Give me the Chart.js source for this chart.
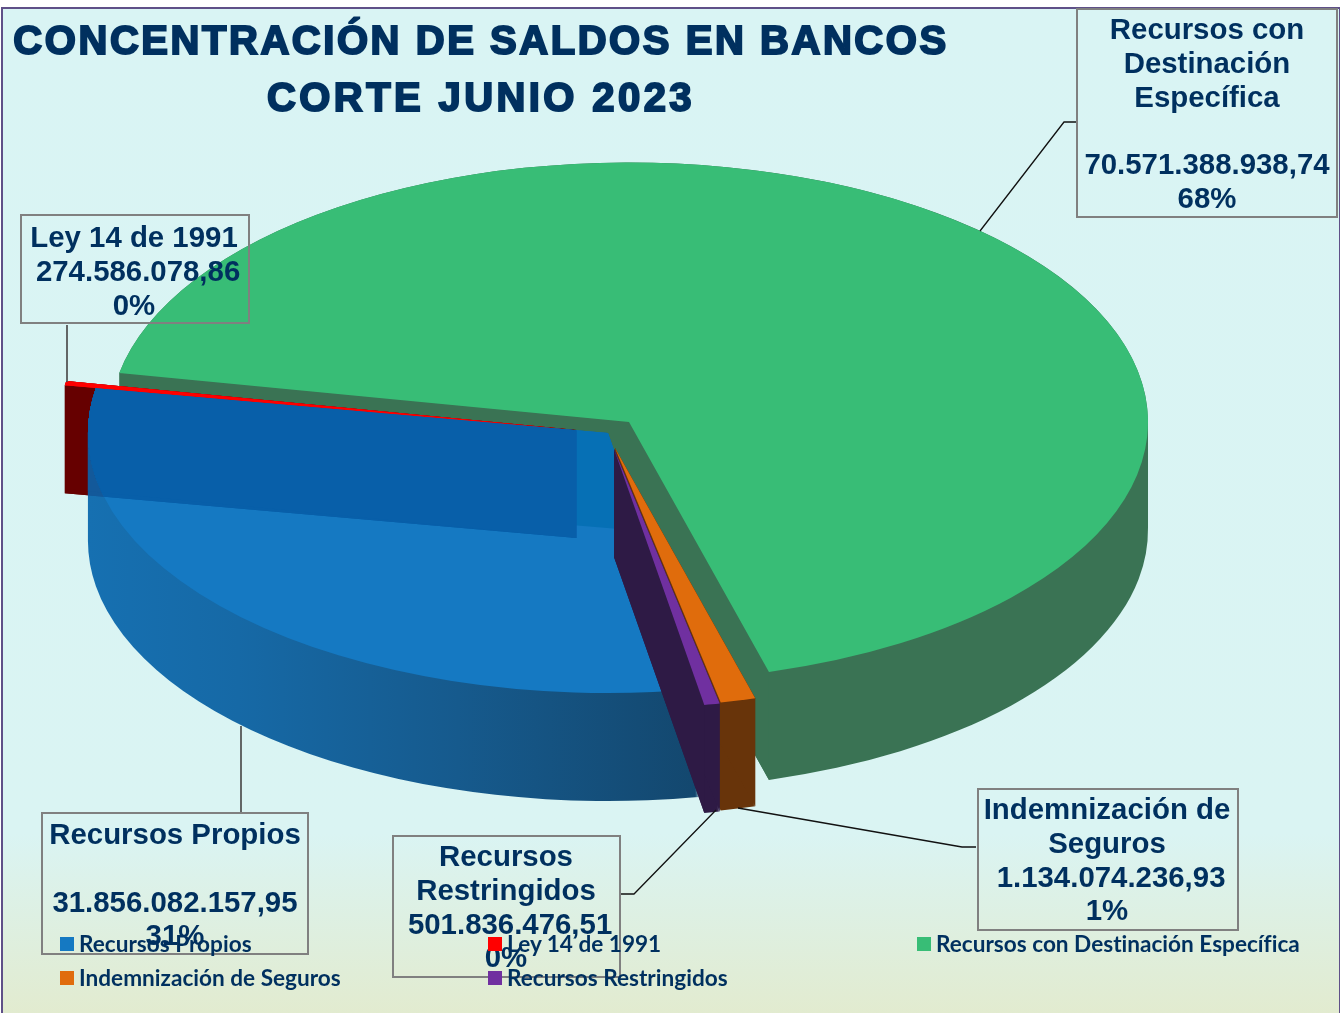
<!DOCTYPE html>
<html lang="es">
<head>
<meta charset="utf-8">
<title>Concentración de saldos en bancos</title>
<script src="https://cdn.jsdelivr.net/npm/chart.js@4/dist/chart.umd.min.js"></script>
<style>
html,body{margin:0;padding:0;background:#fff;width:1340px;height:1013px;overflow:hidden}
#panel{position:absolute;left:1px;top:7px;width:1336px;height:1006px;border:solid #5f5088;border-width:2px 2px 0 2px;
 background:linear-gradient(180deg,#d9f4f4 0%,#daf4f3 82%,#e2ebcf 100%)}
canvas{position:absolute;left:0;top:0}
.t{position:absolute;color:#00305f;font-family:"Liberation Sans",Arial,sans-serif;font-weight:700;white-space:pre;text-align:center;transform:translateX(-50%)}
.title{font-size:40px;-webkit-text-stroke:2px #00305f;line-height:46px}
.box{position:absolute;border:2px solid #808080;box-sizing:border-box}
.lab{font-size:29.4px;line-height:33.8px}
.leg{position:absolute;color:#00305f;font:700 22.6px Lato,sans-serif;font-variant-ligatures:none;white-space:pre;line-height:26px}
.sw{position:absolute;width:14px;height:14px}
</style>
</head>
<body>
<div id="panel"></div>
<canvas id="c" width="1340" height="1013"></canvas>
<div id="over"></div>
<script>
// ---- data ----
const categories = ["Recursos Propios","Ley 14 de 1991","Recursos con Destinación Específica","Indemnización de Seguros","Recursos Restringidos"];
const values = [31856082157.95, 274586078.86, 70571388938.74, 1134074236.93, 501836476.51];
const valueLabels = ["31.856.082.157,95","274.586.078,86","70.571.388.938,74","1.134.074.236,93","501.836.476,51"];
const percentLabels = ["31%","0%","68%","1%","0%"];
const titleLines = ["CONCENTRACIÓN DE SALDOS EN BANCOS","CORTE JUNIO 2023"];
const topColors = ["#1579c2","#ff0000","#38bd76","#e06c0c","#7030a0"];
const wallColors = [null,"#660000","#3a7354","#68340a","#2e1a45"];

// ---- layout of the exploded 3D look ----
const SY = 0.5, DEPTH = 108, START = 170;
const apex = [[608,433],[576.5,430],[629,422],[615,448],[614,449]];
const radii = [520,519.5,519,520,520];
const drawOrder = [2,1,0,3,4];
const titleSpacing = [2.55,3.4];
const labelLayout = [
 {box:[41,812,268,143], cx:175, top:817, lines:["Recursos Propios","", "$v","$p"]},
 {box:[20,214,230,110], cx:134, top:220, lines:["Ley 14 de 1991","\u00A0$v","$p"]},
 {box:[1076,8,262,210], cx:1207, top:12, lines:["Recursos con","Destinación","Específica","","$v","$p"]},
 {box:[977,788,262,143], cx:1107, top:792, lines:["Indemnización de","Seguros","\u00A0$v","$p"]},
 {box:[392,835,229,143], cx:506, top:839, lines:["Recursos","Restringidos","\u00A0$v","$p"]}
];
const leaders = [
 {c:"#4d4d4d",w:1.7,p:[[241,812],[241,726]]},
 {c:"#4d4d4d",w:1.7,p:[[67,325],[67,382]]},
 {c:"#111111",w:1.3,p:[[1077,122],[1064,122],[980,231]]},
 {c:"#111111",w:1.3,p:[[976,847],[962,847],[738,808]]},
 {c:"#111111",w:1.3,p:[[620,894],[634,894],[716,810]]}
];
const legendPos = [[60,937],[488,937],[917,937],[60,971],[488,971]];

function place(ctx,arc,i,d){
  ctx.translate(apex[i][0],apex[i][1]+d);
  ctx.scale(1,SY);
  ctx.translate(-arc.x,-arc.y);
}
function paint(ctx,arc,i,color,d){
  const o=arc.options, r=arc.outerRadius;
  arc.options={backgroundColor:color,borderColor:color,borderWidth:0,borderAlign:'center',offset:0,spacing:0,circular:true,borderRadius:0,borderDash:[],borderDashOffset:0};
  arc.outerRadius=radii[i];
  ctx.save(); place(ctx,arc,i,d); arc.draw(ctx); ctx.restore();
  arc.options=o; arc.outerRadius=r;
}
function sector(ctx,arc,i,d){
  ctx.save(); place(ctx,arc,i,d);
  ctx.moveTo(arc.x,arc.y);
  ctx.arc(arc.x,arc.y,radii[i],arc.startAngle,arc.endAngle);
  ctx.closePath();
  ctx.restore();
}
// one path holding the slice at every depth, so the wall has no seams
function solid(ctx,arc,i){
  ctx.beginPath();
  for(let d=0;d<=DEPTH;d+=0.5) sector(ctx,arc,i,d);
}
// the two cut faces of a slice, filled whole so a thin wedge leaves no gaps
function cutFace(ctx,i,angle){
  const ax=apex[i][0], ay=apex[i][1];
  const rx=ax+radii[i]*Math.cos(angle), ry=ay+radii[i]*SY*Math.sin(angle);
  ctx.beginPath(); ctx.moveTo(ax,ay); ctx.lineTo(rx,ry); ctx.lineTo(rx,ry+DEPTH); ctx.lineTo(ax,ay+DEPTH); ctx.closePath(); ctx.fill();
}
function fillSolid(ctx,arc,i,style){
  ctx.fillStyle=style;
  solid(ctx,arc,i); ctx.fill();
  cutFace(ctx,i,arc.startAngle); cutFace(ctx,i,arc.endAngle);
}
const pie3d={
  id:'pie3d',
  beforeDatasetsDraw(chart){
    const ctx=chart.ctx, arcs=chart.getDatasetMeta(0).data;
    for(const i of drawOrder){
      const arc=arcs[i];
      if(i===0){
        const g=ctx.createLinearGradient(88,0,715,0);
        g.addColorStop(0,"#1670b1"); g.addColorStop(.24,"#1669a6"); g.addColorStop(.59,"#165a8d"); g.addColorStop(1,"#13466c");
        solid(ctx,arc,0); ctx.fillStyle=g; ctx.fill();
        // the Ley 14 wall seen through the translucent outer wall
        ctx.save(); solid(ctx,arc,0); ctx.clip();
        fillSolid(ctx,arcs[1],1,"#13599a");
        ctx.restore();
        // translucent top: back wall and Ley 14 wall show through
        paint(ctx,arc,0,topColors[0],0);
        ctx.save(); ctx.beginPath(); sector(ctx,arc,0,0); ctx.clip();
        ctx.beginPath(); ctx.moveTo(80,380); ctx.lineTo(640,380); ctx.lineTo(640,530.7); ctx.lineTo(80,483.9); ctx.closePath();
        ctx.fillStyle="#0670b5"; ctx.fill();
        fillSolid(ctx,arcs[1],1,"#085fa9");
        ctx.restore();
        // the thin Ley 14 top stays visible along the blue edge
        paint(ctx,arcs[1],1,topColors[1],0);
      } else {
        fillSolid(ctx,arc,i,wallColors[i]);
        paint(ctx,arc,i,topColors[i],0);
      }
    }
    // leader lines
    ctx.save();
    for(const l of leaders){ ctx.strokeStyle=l.c; ctx.lineWidth=l.w; ctx.beginPath(); l.p.forEach((p,k)=>k?ctx.lineTo(p[0],p[1]):ctx.moveTo(p[0],p[1])); ctx.stroke(); }
    ctx.restore();
    return false;
  }
};
new Chart(document.getElementById('c'),{
  type:'pie',
  data:{labels:categories,datasets:[{data:values,backgroundColor:topColors,borderWidth:0}]},
  options:{responsive:false,animation:false,rotation:START,radius:500,
    plugins:{legend:{display:false},tooltip:{enabled:false},title:{display:false}}},
  plugins:[pie3d]
});

// ---- text ----
const over=document.getElementById('over');
function el(cls,css,txt){const e=document.createElement('div');e.className=cls;e.style.cssText=css;if(txt!==undefined)e.textContent=txt;over.appendChild(e);return e;}
titleLines.forEach((s,i)=>el('t title',`left:481px;top:${17+i*57}px;letter-spacing:${titleSpacing[i]}px`,s));
labelLayout.forEach((l,i)=>{
  el('box',`left:${l.box[0]}px;top:${l.box[1]}px;width:${l.box[2]}px;height:${l.box[3]}px`);
  const txt=l.lines.map(s=>s.replace('$v',valueLabels[i]).replace('$p',percentLabels[i])).join('\n');
  el('t lab',`left:${l.cx}px;top:${l.top}px`,txt);
});
categories.forEach((c,i)=>{
  const p=legendPos[i];
  el('sw',`left:${p[0]}px;top:${p[1]}px;background:${topColors[i]}`);
  el('leg',`left:${p[0]+19}px;top:${p[1]-6}px`,c);
});
</script>
</body>
</html>
